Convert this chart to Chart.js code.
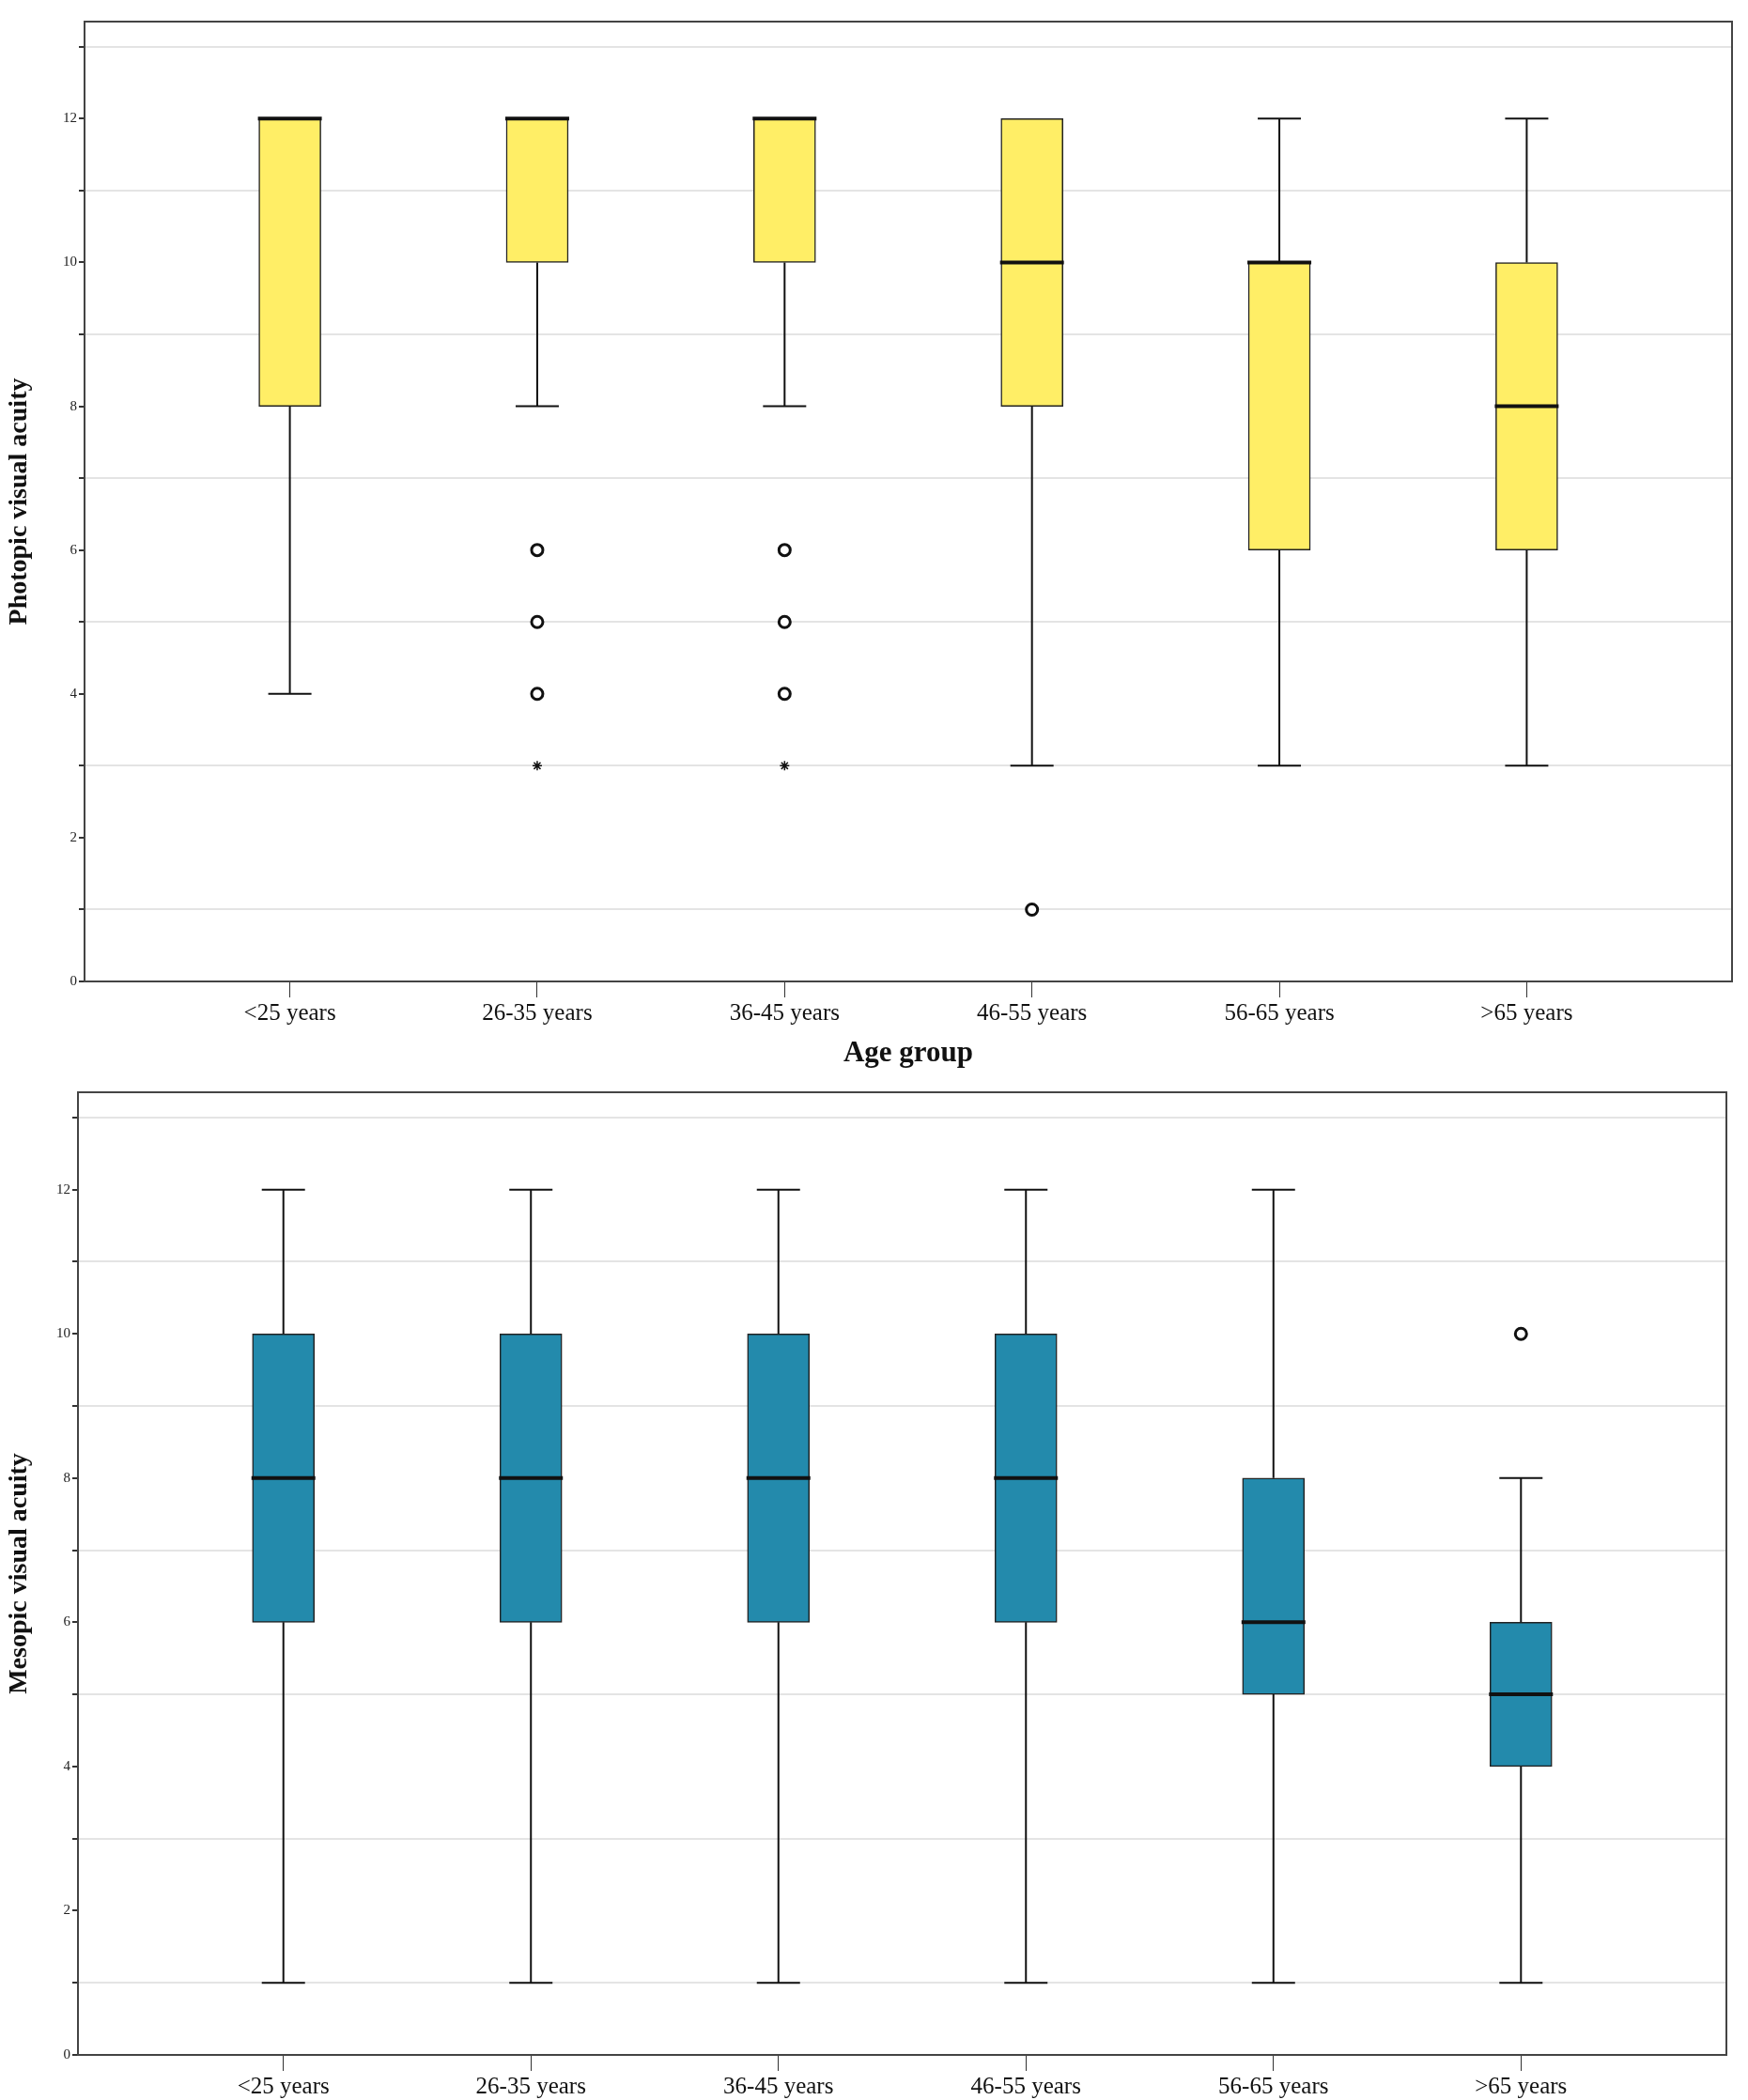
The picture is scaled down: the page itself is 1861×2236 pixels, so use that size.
<!DOCTYPE html>
<html>
<head>
<meta charset="utf-8">
<script src="https://cdn.jsdelivr.net/npm/chart.js@4/dist/chart.umd.min.js"></script>
<style>
  body { margin: 0; background: #fff; }
  .wrap { position: absolute; left: 0; width: 1861px; }
</style>
</head>
<body>
<div class="wrap" style="top:0;height:1145px"><canvas id="photopic"></canvas></div>
<div class="wrap" style="top:1140px;height:1096px"><canvas id="mesopic"></canvas></div>
<script>
// age groups along x
const ageGroups = ["<25 years", "26-35 years", "36-45 years", "46-55 years", "56-65 years", ">65 years"];

// photopic: min, q1, median, q3, max
const photoMin = [4, 8, 8, 3, 3, 3];
const photoQ1 = [8, 10, 10, 8, 6, 6];
const photoMed = [12, 12, 12, 10, 10, 8];
const photoQ3 = [12, 12, 12, 12, 10, 10];
const photoMax = [12, 12, 12, 12, 12, 12];
const photoOutliers = [[1, 6], [1, 5], [1, 4], [2, 6], [2, 5], [2, 4], [3, 1]];
const photoExtremes = [[1, 3], [2, 3]];

// mesopic
const mesoMin = [1, 1, 1, 1, 1, 1];
const mesoQ1 = [6, 6, 6, 6, 5, 4];
const mesoMed = [8, 8, 8, 8, 6, 5];
const mesoQ3 = [10, 10, 10, 10, 8, 6];
const mesoMax = [12, 12, 12, 12, 12, 8];
const mesoOutliers = [[5, 10]];
const mesoExtremes = [];

const serif = "'Liberation Serif', 'DejaVu Serif', serif";

// whiskers, medians and frame drawn with the chart's own scales
const boxExtras = {
  id: "boxExtras",
  afterDatasetsDraw(chart) {
    const { ctx, chartArea: a, scales: { x, y } } = chart;
    const s = chart.options.plugins.boxExtras;
    ctx.save();
    ctx.strokeStyle = "#111";
    s.med.forEach((m, i) => {
      const cx = x.getPixelForValue(i);
      const capW = 23, boxW = 34;
      ctx.lineWidth = 2;
      ctx.beginPath();
      ctx.moveTo(cx, y.getPixelForValue(s.q3[i])); ctx.lineTo(cx, y.getPixelForValue(s.max[i]));
      ctx.moveTo(cx, y.getPixelForValue(s.q1[i])); ctx.lineTo(cx, y.getPixelForValue(s.min[i]));
      if (s.max[i] > s.q3[i]) { ctx.moveTo(cx - capW, y.getPixelForValue(s.max[i])); ctx.lineTo(cx + capW, y.getPixelForValue(s.max[i])); }
      if (s.min[i] < s.q1[i]) { ctx.moveTo(cx - capW, y.getPixelForValue(s.min[i])); ctx.lineTo(cx + capW, y.getPixelForValue(s.min[i])); }
      ctx.stroke();
      ctx.lineWidth = 4;
      ctx.beginPath();
      ctx.moveTo(cx - boxW, y.getPixelForValue(m)); ctx.lineTo(cx + boxW, y.getPixelForValue(m));
      ctx.stroke();
    });
    ctx.lineWidth = 2;
    ctx.strokeStyle = "#444";
    ctx.strokeRect(a.left, a.top, a.right - a.left, a.bottom - a.top);
    ctx.restore();
  }
};

function makeChart(id, color, yTitle, xTitle, min, q1, med, q3, max, outl, extr, pad, xh) {
  new Chart(document.getElementById(id), {
    type: "bar",
    data: {
      datasets: [
        {
          data: ageGroups.map((_, i) => ({ x: i, y: [q1[i], q3[i]] })),
          backgroundColor: color, borderColor: "#222", borderWidth: 1.5,
          borderSkipped: false, barThickness: 66
        },
        {
          type: "scatter",
          data: outl.map(p => ({ x: p[0], y: p[1] })),
          pointStyle: "circle", pointRadius: 6, backgroundColor: "#fff",
          borderColor: "#111", borderWidth: 3
        },
        {
          type: "scatter",
          data: extr.map(p => ({ x: p[0], y: p[1] })),
          pointStyle: "star", pointRadius: 5, borderColor: "#111", borderWidth: 1.5
        }
      ]
    },
    options: {
      responsive: true, maintainAspectRatio: false, animation: false,
      layout: { padding: pad },
      plugins: {
        legend: { display: false }, tooltip: { enabled: false },
        boxExtras: { min, q1, med, q3, max }
      },
      scales: {
        x: {
          type: "linear", min: -0.83, max: 5.83, offset: false,
          afterBuildTicks: sc => { sc.ticks = ageGroups.map((_, i) => ({ value: i })); },
          afterFit: sc => { sc.height = xh; },
          ticks: { callback: v => ageGroups[v], color: "#111", font: { family: serif, size: 25 }, padding: 2, maxRotation: 0 },
          grid: { offset: false, color: "transparent", tickColor: "#333", tickLength: 17, drawOnChartArea: false },
          border: { display: false },
          title: { display: !!xTitle, text: xTitle, color: "#111", font: { family: serif, size: 31, weight: "bold" }, padding: { top: 4 } }
        },
        y: {
          min: 0, max: 13.35,
          afterFit: sc => { sc.width = pad.left0; },
          ticks: { stepSize: 1, includeBounds: false, callback: v => (v % 2 === 0 ? v : ""), color: "#222", font: { family: serif, size: 15 }, padding: 2 },
          grid: { color: c => (c.tick && c.tick.value % 2 === 1 ? "#e4e4e4" : "transparent"), lineWidth: 2, tickColor: "#333", tickLength: 6 },
          border: { display: false },
          title: { display: true, text: yTitle, color: "#111", font: { family: serif, size: 28, weight: "bold" }, padding: { bottom: 8 } }
        }
      }
    },
    plugins: [boxExtras]
  });
}

makeChart("photopic", "#FFEE66", "Photopic visual acuity", "Age group",
  photoMin, photoQ1, photoMed, photoQ3, photoMax, photoOutliers, photoExtremes,
  { top: 23, right: 17, bottom: 0, left: 0, left0: 90 }, 100);
makeChart("mesopic", "#238AAC", "Mesopic visual acuity", "",
  mesoMin, mesoQ1, mesoMed, mesoQ3, mesoMax, mesoOutliers, mesoExtremes,
  { top: 23, right: 23, bottom: 0, left: 0, left0: 83 }, 48);
</script>
</body>
</html>
